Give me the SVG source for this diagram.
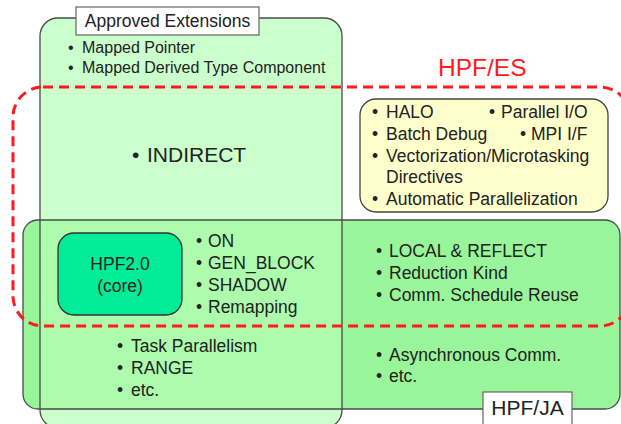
<svg xmlns="http://www.w3.org/2000/svg" width="621" height="424" viewBox="0 0 621 424">
<style>
text { font-family: "Liberation Sans", Arial, sans-serif; fill: #222; }
.t { font-size: 17.5px; }
.s { font-size: 16px; }
.outline { fill: none; stroke: #4a4a4a; stroke-width: 1.3; }
.lbl { fill: #fff; stroke: #666; stroke-width: 1.2; }
.mid { text-anchor: middle; }
</style>
<rect width="621" height="424" fill="#fff"/>
<g id="hpfja">
  <rect x="23" y="220" width="597" height="189" rx="15" fill="#99f599"/>
</g>
<g id="approved">
  <rect x="40" y="18" width="302" height="410" rx="18" fill="#b5ffb5" fill-opacity="0.7"/>
  <rect class="outline" x="40" y="18" width="302" height="410" rx="18"/>
</g>
<g id="hpfja-outline">
  <rect class="outline" x="23" y="220" width="597" height="189" rx="15"/>
</g>
<g id="approved-label">
  <rect class="lbl" x="76" y="7" width="183" height="28"/>
  <text class="mid" x="167.5" y="27" font-size="17.5">Approved Extensions</text>
</g>
<g id="approved-items" class="s">
  <text><tspan x="68" y="53">•</tspan><tspan x="82" y="53">Mapped Pointer</tspan></text>
  <text><tspan x="68" y="73">•</tspan><tspan x="82" y="73">Mapped Derived Type Component</tspan></text>
</g>
<g id="indirect">
  <text font-size="21"><tspan x="132" y="162">•</tspan><tspan x="147" y="162">INDIRECT</tspan></text>
</g>
<g id="hpfes-items">
  <rect x="360" y="99" width="248" height="113" rx="16" fill="#ffffcc" stroke="#444" stroke-width="1.3"/>
  <g class="t">
    <text><tspan x="372" y="118">•</tspan><tspan x="386" y="118">HALO</tspan><tspan x="489" y="118">•</tspan><tspan x="501" y="118">Parallel I/O</tspan></text>
    <text><tspan x="372" y="140">•</tspan><tspan x="386" y="140">Batch Debug</tspan><tspan x="520" y="140">•</tspan><tspan x="531" y="140">MPI I/F</tspan></text>
    <text><tspan x="372" y="162">•</tspan><tspan x="386" y="162">Vectorization/Microtasking</tspan></text>
    <text x="386" y="183">Directives</text>
    <text><tspan x="372" y="205">•</tspan><tspan x="386" y="205">Automatic Parallelization</tspan></text>
  </g>
</g>
<g id="hpf20">
  <rect x="58" y="233" width="124" height="82" rx="16" fill="#00ec96" stroke="#333" stroke-width="1.3"/>
  <text class="t mid" x="120" y="270">HPF2.0</text>
  <text class="t mid" x="120" y="292">(core)</text>
</g>
<g id="hpf20-ext" class="t">
  <text><tspan x="196" y="247">•</tspan><tspan x="208" y="247">ON</tspan></text>
  <text><tspan x="196" y="269">•</tspan><tspan x="208" y="269">GEN_BLOCK</tspan></text>
  <text><tspan x="196" y="291">•</tspan><tspan x="208" y="291">SHADOW</tspan></text>
  <text><tspan x="196" y="313">•</tspan><tspan x="208" y="313">Remapping</tspan></text>
</g>
<g id="approved-ja" class="t">
  <text><tspan x="117" y="352">•</tspan><tspan x="131" y="352">Task Parallelism</tspan></text>
  <text><tspan x="117" y="374">•</tspan><tspan x="131" y="374">RANGE</tspan></text>
  <text><tspan x="117" y="396">•</tspan><tspan x="131" y="396">etc.</tspan></text>
</g>
<g id="ja-es" class="t">
  <text><tspan x="376" y="257">•</tspan><tspan x="389" y="257">LOCAL &amp; REFLECT</tspan></text>
  <text><tspan x="376" y="279">•</tspan><tspan x="389" y="279">Reduction Kind</tspan></text>
  <text><tspan x="376" y="301">•</tspan><tspan x="389" y="301">Comm. Schedule Reuse</tspan></text>
</g>
<g id="ja-only" class="t">
  <text><tspan x="376" y="361">•</tspan><tspan x="389" y="361">Asynchronous Comm.</tspan></text>
  <text><tspan x="376" y="382">•</tspan><tspan x="389" y="382">etc.</tspan></text>
</g>
<g id="hpfja-label">
  <rect class="lbl" x="483" y="392" width="89" height="40"/>
  <text class="mid" x="527.5" y="415" font-size="21">HPF/JA</text>
</g>
<g id="hpfes">
  <rect x="13" y="87" width="617" height="239" rx="30" fill="none" stroke="#ff1a1a" stroke-width="3" stroke-dasharray="10 6"/>
  <text x="438" y="76" font-size="24.5" style="fill:#ff1a1a">HPF/ES</text>
</g>
</svg>
